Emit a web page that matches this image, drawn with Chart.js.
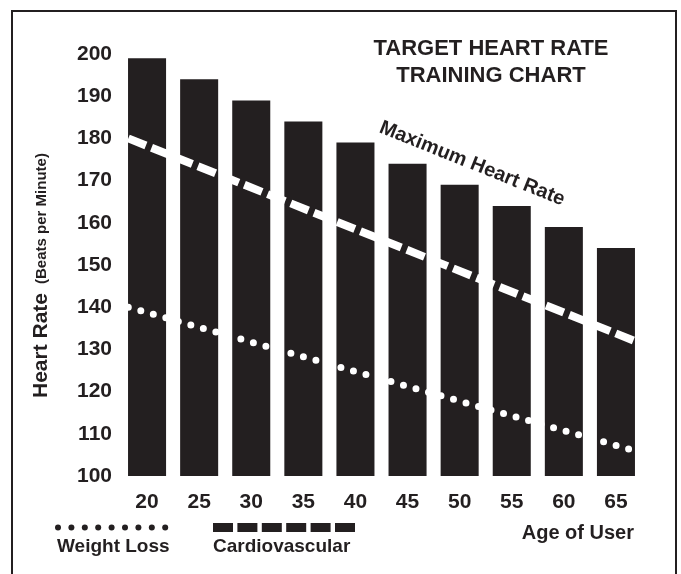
<!DOCTYPE html>
<html><head><meta charset="utf-8">
<script src="https://cdn.jsdelivr.net/npm/chart.js@4.4.0/dist/chart.umd.min.js"></script>
<style>html,body{margin:0;padding:0;background:#fff}#wrap{width:681px;height:574px}</style>
</head><body><div id="wrap"><canvas id="c" width="681" height="574"></canvas></div>
<script>
// ---- data ----
const ages = ['20','25','30','35','40','45','50','55','60','65'];
const targetZoneTop = [199,194,189,184,179,174,169,164,159,154];
const maxHeartRateAges = [18.2, 66.8];
const maxHeartRateValues = [180, 132];
const weightLossAges = [18.2, 66.8];
const weightLossValues = [140, 106];
const yTicks = [100,110,120,130,140,150,160,170,180,190,200];
const titleLines = ['TARGET HEART RATE','TRAINING CHART'];
const yTitleMain = 'Heart Rate';
const yTitleSub = '(Beats per Minute)';
const xTitle = 'Age of User';
const legendLabels = ['Weight Loss','Cardiovascular'];
const lineLabel = 'Maximum Heart Rate';

const INK = '#231f20';
const FAM = '"Liberation Sans", Arial, Helvetica, sans-serif';
Chart.defaults.font.family = FAM;

const decor = {
  id: 'decor',
  afterDraw(chart) {
    const ctx = chart.ctx;
    const xs = chart.scales.x2, ys = chart.scales.y;
    ctx.save();
    // frame
    ctx.strokeStyle = INK; ctx.lineWidth = 2;
    ctx.beginPath();
    ctx.moveTo(12, 574); ctx.lineTo(12, 11); ctx.lineTo(676, 11); ctx.lineTo(676, 574);
    ctx.stroke();
    ctx.fillStyle = INK;
    // title
    ctx.font = 'bold 22px ' + FAM;
    ctx.textAlign = 'center'; ctx.textBaseline = 'middle';
    ctx.fillText(titleLines[0], 491, 49);
    ctx.fillText(titleLines[1], 491, 76);
    // y title
    ctx.save();
    ctx.translate(47, 398); ctx.rotate(-Math.PI/2);
    ctx.textAlign = 'left'; ctx.textBaseline = 'alphabetic';
    ctx.font = 'bold 21px ' + FAM;
    ctx.fillText(yTitleMain, 0, 0);
    const w = ctx.measureText(yTitleMain).width;
    ctx.font = 'bold 15px ' + FAM;
    ctx.fillText(yTitleSub, w + 9, -1);
    ctx.restore();
    // label along max line
    const p1x = xs.getPixelForValue(maxHeartRateAges[0]), p1y = ys.getPixelForValue(maxHeartRateValues[0]);
    const p2x = xs.getPixelForValue(maxHeartRateAges[1]), p2y = ys.getPixelForValue(maxHeartRateValues[1]);
    const ang = Math.atan2(p2y - p1y, p2x - p1x);
    ctx.save();
    ctx.translate(xs.getPixelForValue(51.0), ys.getPixelForValue(172.8));
    ctx.rotate(ang);
    ctx.font = 'bold 20px ' + FAM;
    ctx.textAlign = 'center'; ctx.textBaseline = 'alphabetic';
    ctx.fillText(lineLabel, 0, 0);
    ctx.restore();
    // x title
    ctx.font = 'bold 20px ' + FAM;
    ctx.textAlign = 'right'; ctx.textBaseline = 'middle';
    ctx.fillText(xTitle, 634, 533);
    // legend: dots
    for (let i = 0; i < 9; i++) {
      ctx.beginPath(); ctx.arc(58 + i * 13.4, 527.5, 3, 0, Math.PI * 2); ctx.fill();
    }
    // legend: dashes
    for (let i = 0; i < 6; i++) {
      ctx.fillRect(213 + i * 24.4, 523, 20, 9);
    }
    ctx.font = 'bold 19px ' + FAM;
    ctx.textAlign = 'left'; ctx.textBaseline = 'middle';
    ctx.fillText(legendLabels[0], 57, 547);
    ctx.fillText(legendLabels[1], 213, 547);
    ctx.restore();
  }
};

new Chart(document.getElementById('c'), {
  type: 'bar',
  data: {
    labels: ages,
    datasets: [
      {
        type: 'line', label: lineLabel, xAxisID: 'x2', yAxisID: 'y',
        data: maxHeartRateAges.map((a, i) => ({x: a, y: maxHeartRateValues[i]})),
        borderColor: '#ffffff', borderWidth: 8, borderDash: [19, 6],
        pointRadius: 0, fill: false, tension: 0, order: 0
      },
      {
        type: 'line', label: legendLabels[0], xAxisID: 'x2', yAxisID: 'y',
        data: weightLossAges.map((a, i) => ({x: a, y: weightLossValues[i]})),
        borderColor: '#ffffff', borderWidth: 7, borderDash: [0, 13], borderCapStyle: 'round',
        pointRadius: 0, fill: false, tension: 0, order: 1
      },
      {
        type: 'bar', label: legendLabels[1], xAxisID: 'x', yAxisID: 'y',
        data: targetZoneTop,
        backgroundColor: INK, borderWidth: 0, grouped: false,
        barPercentage: 0.73, categoryPercentage: 1.0, order: 2
      }
    ]
  },
  options: {
    responsive: false, animation: false, devicePixelRatio: 1,
    layout: { padding: { top: 54, right: 39, bottom: 0, left: 0 } },
    plugins: { legend: { display: false }, tooltip: { enabled: false }, title: { display: false } },
    scales: {
      x: {
        type: 'category', position: 'bottom',
        grid: { display: false, drawTicks: false }, border: { display: false },
        ticks: { color: INK, font: { size: 21, weight: 'bold' }, padding: 14, maxRotation: 0 },
        afterFit(s) { s.height = 98; }
      },
      x2: { type: 'linear', display: false, position: 'bottom', min: 17.5, max: 67.5, offset: false, grid: { offset: false } },
      y: {
        type: 'linear', position: 'left', min: 100, max: 200,
        grid: { display: false, drawTicks: false }, border: { display: false },
        ticks: { color: INK, font: { size: 21, weight: 'bold' }, padding: 9, stepSize: 10 },
        afterBuildTicks(s) { s.ticks = yTicks.map(v => ({ value: v })); },
        afterFit(s) { s.width = 121; }
      }
    }
  },
  plugins: [decor]
});
</script>
</body></html>
